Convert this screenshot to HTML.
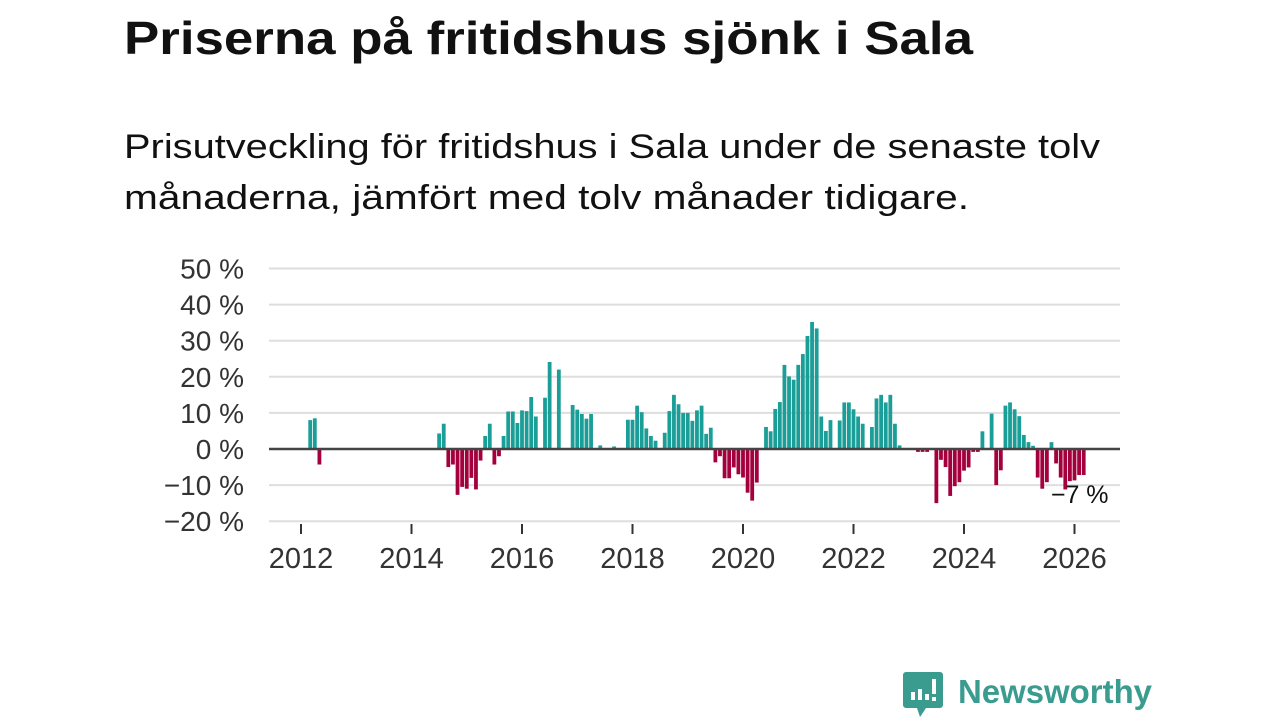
<!DOCTYPE html>
<html><head><meta charset="utf-8">
<style>
html,body{margin:0;padding:0;background:#fff;width:1280px;height:720px;overflow:hidden;font-family:"Liberation Sans",sans-serif;}
</style></head>
<body>
<svg id="root" width="1280" height="720" xmlns="http://www.w3.org/2000/svg">
<text x="124" y="54" font-family="Liberation Sans, sans-serif" font-weight="bold" font-size="46" fill="#111" textLength="849" lengthAdjust="spacingAndGlyphs">Priserna på fritidshus sjönk i Sala</text>
<text x="124" y="158" font-family="Liberation Sans, sans-serif" font-size="34" fill="#111" textLength="976" lengthAdjust="spacingAndGlyphs">Prisutveckling för fritidshus i Sala under de senaste tolv</text>
<text x="124" y="209" font-family="Liberation Sans, sans-serif" font-size="34" fill="#111" textLength="845" lengthAdjust="spacingAndGlyphs">månaderna, jämfört med tolv månader tidigare.</text>
<g id="plot"></g>
<g>
<path d="M906 672 h34 a3 3 0 0 1 3 3 v30 a3 3 0 0 1 -3 3 h-14 l-6 9 l-3 -9 h-11 a3 3 0 0 1 -3 -3 v-30 a3 3 0 0 1 3 -3z" fill="#3a9b8f"/>
<rect x="911" y="692" width="4" height="8" fill="#fff"/>
<rect x="918" y="689" width="4" height="11" fill="#fff"/>
<rect x="925" y="694" width="4" height="6" fill="#fff"/>
<rect x="932" y="679" width="4" height="15" fill="#fff"/>
<rect x="932" y="697" width="4" height="4" fill="#fff"/>
<text x="958" y="703" font-family="Liberation Sans, sans-serif" font-weight="bold" font-size="33" fill="#3a9b8f" textLength="194" lengthAdjust="spacingAndGlyphs">Newsworthy</text>
</g>
</svg>
<script>
const yTicks = [50,40,30,20,10,0,-10,-20];
const yTickLabels = ["50 %","40 %","30 %","20 %","10 %","0 %","\u221210 %","\u221220 %"];
const xYears = [2012,2014,2016,2018,2020,2022,2024,2026];
const startYear = 2012;
// monthly values from Jan 2012 (null = no data)
const values = [
null,null,8,8.5,-4.3,null,null,null,null,null,null,null,
null,null,null,null,null,null,null,null,null,null,null,null,
null,null,null,null,null,null,4.3,7,-5,-4.3,-12.7,-10.5,
-11,-8,-11.2,-3.2,3.6,7,-4.3,-2,3.6,10.4,10.4,7.2,
10.7,10.5,14.4,9,null,14.2,24.1,null,22,null,null,12.2,
10.9,9.7,8.4,9.7,null,1,null,null,0.7,null,null,8.1,
8.1,12,10.2,5.7,3.6,2.3,null,4.5,10.5,15,12.4,10,
10,7.8,10.7,12,4.2,5.9,-3.7,-2,-8.1,-8.1,-5.1,-7,
-7.9,-12.1,-14.3,-9.3,null,6.1,4.9,11.1,13,23.3,20.1,19.2,
23.3,26.3,31.3,35.2,33.4,9,5,8,null,7.9,12.9,12.9,
11,9,7,null,6.1,14,15,12.9,15,7,1,null,
null,null,-0.8,-0.8,-0.8,null,-15,-3,-5,-13,-10.3,-9.2,
-6,-5.1,-0.8,-0.8,4.9,null,9.8,-10,-5.9,12,12.9,11,
9.1,3.9,1.9,0.9,-7.9,-11,-9.2,1.9,-4,-7.9,-11.2,-8.9,
-8.7,-7.2,-7.2
];
const lastLabel = "\u22127 %";

const NS="http://www.w3.org/2000/svg";
const plot=document.getElementById('plot');
const X0=269,X1=1120;
const yScale=v=>449-v*3.61;
const xScale=m=>301+m*55.25/12;
function mk(t,a){const e=document.createElementNS(NS,t);for(const k in a)e.setAttribute(k,a[k]);plot.appendChild(e);return e;}
yTicks.forEach((t,i)=>{
  if(t!==0){const g=mk('line',{x1:X0,x2:X1,y1:yScale(t),y2:yScale(t),stroke:'#dedede','stroke-width':2});
  
  }
  const l=mk('text',{x:244,y:yScale(t)+10,'text-anchor':'end','font-size':28,fill:'#333','font-family':'Liberation Sans, sans-serif'});
  l.textContent=yTickLabels[i];
  
  
});
xYears.forEach(y=>{
  const x=xScale((y-startYear)*12);
  const tk=mk('line',{x1:x,x2:x,y1:524,y2:534,stroke:'#333','stroke-width':2});
  
  
  const l=mk('text',{x:x,y:568,'text-anchor':'middle','font-size':29,fill:'#333','font-family':'Liberation Sans, sans-serif'});
  l.textContent=y;
  
  
});
let lastI=0;
values.forEach((v,i)=>{
  if(v===null)return;
  lastI=i;
  const x=xScale(i);
  const y0=yScale(0),y1=yScale(v);
  const r=mk('rect',{x:x-1.9,width:3.8,y:Math.min(y0,y1),height:Math.max(0.8,Math.abs(y1-y0)),fill:v>=0?'#1a9e97':'#a3003d'});
  
  
});
const zl=mk('line',{x1:X0,x2:X1,y1:yScale(0),y2:yScale(0),stroke:'#444','stroke-width':2.5});


const ll=mk('text',{x:xScale(lastI)-4,y:yScale(values[lastI])+28,'text-anchor':'middle','font-size':25,fill:'#111','font-family':'Liberation Sans, sans-serif'});
ll.textContent=lastLabel;


</script>
</body></html>
